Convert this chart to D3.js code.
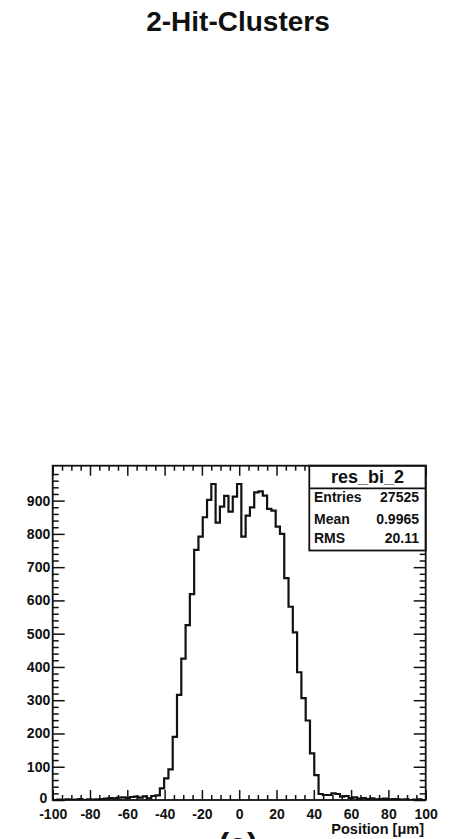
<!DOCTYPE html>
<html>
<head>
<meta charset="utf-8">
<script src="https://cdn.jsdelivr.net/npm/d3@7"></script>
<style>
  body { margin: 0; background: #fff; }
  svg text { font-family: 'Liberation Sans', Arial, sans-serif; fill: #111; }
</style>
</head>
<body>
<script>
// histogram: bins of 2.3 um centred on k*2.3, k = -43..43
const BIN_WIDTH = 2.3;
const FIRST_CENTER = -98.9;
const counts = [
  0, 1, 0, 2, 0, 1, 3, 0, 2, 1, 2, 3, 4, 6, 5, 7, 8, 6, 9, 10, 7, 11, 5, 12,
  14,
  35, 65, 92, 190, 316, 425, 526, 619, 752, 792, 850, 902,
  950, 834, 882, 914, 867, 912, 950, 792, 855, 880, 925, 928, 915, 875, 870, 822, 800,
  667, 581, 504, 384, 306, 239, 140, 75,
  18, 15, 15, 20, 18, 10, 12, 6, 8, 4, 6, 3, 5, 2, 3, 4, 1, 3, 2, 1, 2, 0, 1, 2, 0
];

const xMajor = [-100, -80, -60, -40, -20, 0, 20, 40, 60, 80, 100];
const yMajor = [0, 100, 200, 300, 400, 500, 600, 700, 800, 900];
const X_DOMAIN = [-100, 100];
const Y_DOMAIN = [0, 1005];

const statsTitle = 'res_bi_2';
const statsRows = [['Entries', '27525'], ['Mean', '0.9965'], ['RMS', '20.11']];

const W = 451, H = 839;
const FRAME = {L: 52.7, R: 425.7, T: 465.7, B: 800};
const FONT = "'Liberation Sans', Arial, sans-serif";

const svg = d3.select('body').append('svg')
    .attr('width', W)
    .attr('height', H);

const x = d3.scaleLinear().domain(X_DOMAIN).range([FRAME.L, FRAME.R]);
const y = d3.scaleLinear().domain(Y_DOMAIN).range([FRAME.B, FRAME.T]);

// title
svg.append('text')
    .attr('x', 238)
    .attr('y', 31)
    .attr('text-anchor', 'middle')
    .style('font-size', '28px')
    .style('font-weight', 'bold')
    .text('2-Hit-Clusters');

// minor tick values
const xMinor = d3.range(-100, 100.1, 5).filter(v => v % 20 !== 0);
const yMinor = d3.range(0, 1001, 20).filter(v => v % 100 !== 0);

function styleAxis(g) {
    g.select('.domain').remove();
    g.selectAll('line').attr('stroke', '#111').attr('stroke-width', 1.5);
    g.selectAll('text')
        .style('font-size', '14px')
        .style('font-weight', 'bold')
        .style('font-family', FONT)
        .attr('fill', '#111');
}

// bottom axis
svg.append('g')
    .attr('transform', 'translate(0,' + FRAME.B + ')')
    .call(d3.axisBottom(x).tickValues(xMajor).tickSize(-10).tickPadding(9).tickFormat(d => String(d)))
    .call(styleAxis);
svg.append('g')
    .attr('transform', 'translate(0,' + FRAME.B + ')')
    .call(d3.axisBottom(x).tickValues(xMinor).tickSize(-5).tickFormat(''))
    .call(styleAxis);

// top axis
svg.append('g')
    .attr('transform', 'translate(0,' + FRAME.T + ')')
    .call(d3.axisTop(x).tickValues(xMajor).tickSize(-10).tickFormat(''))
    .call(styleAxis);
svg.append('g')
    .attr('transform', 'translate(0,' + FRAME.T + ')')
    .call(d3.axisTop(x).tickValues(xMinor).tickSize(-5).tickFormat(''))
    .call(styleAxis);

// left axis
const yAxisG = svg.append('g')
    .attr('transform', 'translate(' + FRAME.L + ',0)')
    .call(d3.axisLeft(y).tickValues(yMajor).tickSize(-12).tickPadding(2.5).tickFormat(d => String(d)))
    .call(styleAxis);
// the zero label sits a little higher and further left, as in ROOT
yAxisG.selectAll('.tick text').filter(d => d === 0)
    .attr('x', -5.5)
    .attr('dy', '0.2em');
svg.append('g')
    .attr('transform', 'translate(' + FRAME.L + ',0)')
    .call(d3.axisLeft(y).tickValues(yMinor).tickSize(-6).tickFormat(''))
    .call(styleAxis);

// right axis
svg.append('g')
    .attr('transform', 'translate(' + FRAME.R + ',0)')
    .call(d3.axisRight(y).tickValues(yMajor).tickSize(-12).tickFormat(''))
    .call(styleAxis);
svg.append('g')
    .attr('transform', 'translate(' + FRAME.R + ',0)')
    .call(d3.axisRight(y).tickValues(yMinor).tickSize(-6).tickFormat(''))
    .call(styleAxis);

// histogram outline
svg.append('clipPath').attr('id', 'clip')
    .append('rect')
    .attr('x', FRAME.L).attr('y', FRAME.T)
    .attr('width', FRAME.R - FRAME.L).attr('height', FRAME.B - FRAME.T);

const pts = counts.map((c, i) => [FIRST_CENTER + i * BIN_WIDTH - BIN_WIDTH / 2, c]);
pts.push([FIRST_CENTER + (counts.length - 0.5) * BIN_WIDTH, counts[counts.length - 1]]);

const line = d3.line()
    .x(d => x(d[0]))
    .y(d => y(d[1]))
    .curve(d3.curveStepAfter);

svg.append('path')
    .attr('clip-path', 'url(#clip)')
    .attr('d', line(pts))
    .attr('fill', 'none')
    .attr('stroke', '#111')
    .attr('stroke-width', 2.2);

// stats box
const box = svg.append('g');
const BOX = {L: 309.3, R: FRAME.R, T: FRAME.T, B: 550.5, DIV: 488.3};
box.append('rect')
    .attr('x', BOX.L).attr('y', BOX.T)
    .attr('width', BOX.R - BOX.L).attr('height', BOX.B - BOX.T)
    .attr('fill', '#fff')
    .attr('stroke', '#111')
    .attr('stroke-width', 1.8);
box.append('line')
    .attr('x1', BOX.L).attr('x2', BOX.R)
    .attr('y1', BOX.DIV).attr('y2', BOX.DIV)
    .attr('stroke', '#111')
    .attr('stroke-width', 1.8);
box.append('text')
    .attr('x', (BOX.L + BOX.R) / 2)
    .attr('y', 483.3)
    .attr('text-anchor', 'middle')
    .style('font-size', '18px')
    .style('font-weight', 'bold')
    .text(statsTitle);

const rowY = [501.5, 523.5, 543];
statsRows.forEach((r, i) => {
    box.append('text')
        .attr('x', 314)
        .attr('y', rowY[i])
        .style('font-size', '14px')
        .style('font-weight', 'bold')
        .text(r[0]);
    box.append('text')
        .attr('x', 419)
        .attr('y', rowY[i])
        .attr('text-anchor', 'end')
        .style('font-size', '14px')
        .style('font-weight', 'bold')
        .text(r[1]);
});

// frame
svg.append('rect')
    .attr('x', FRAME.L).attr('y', FRAME.T)
    .attr('width', FRAME.R - FRAME.L).attr('height', FRAME.B - FRAME.T)
    .attr('fill', 'none')
    .attr('stroke', '#111')
    .attr('stroke-width', 1.8);

// axis title
svg.append('text')
    .attr('x', 424)
    .attr('y', 834)
    .attr('text-anchor', 'end')
    .style('font-size', '14.5px')
    .style('font-weight', 'bold')
    .text('Position [μm]');

// sub-figure label, mostly cut off at the bottom as in the source
svg.append('text')
    .attr('x', 238)
    .attr('y', 855)
    .attr('text-anchor', 'middle')
    .style('font-size', '32px')
    .style('font-weight', 'bold')
    .text('(a)');
</script>
</body>
</html>
